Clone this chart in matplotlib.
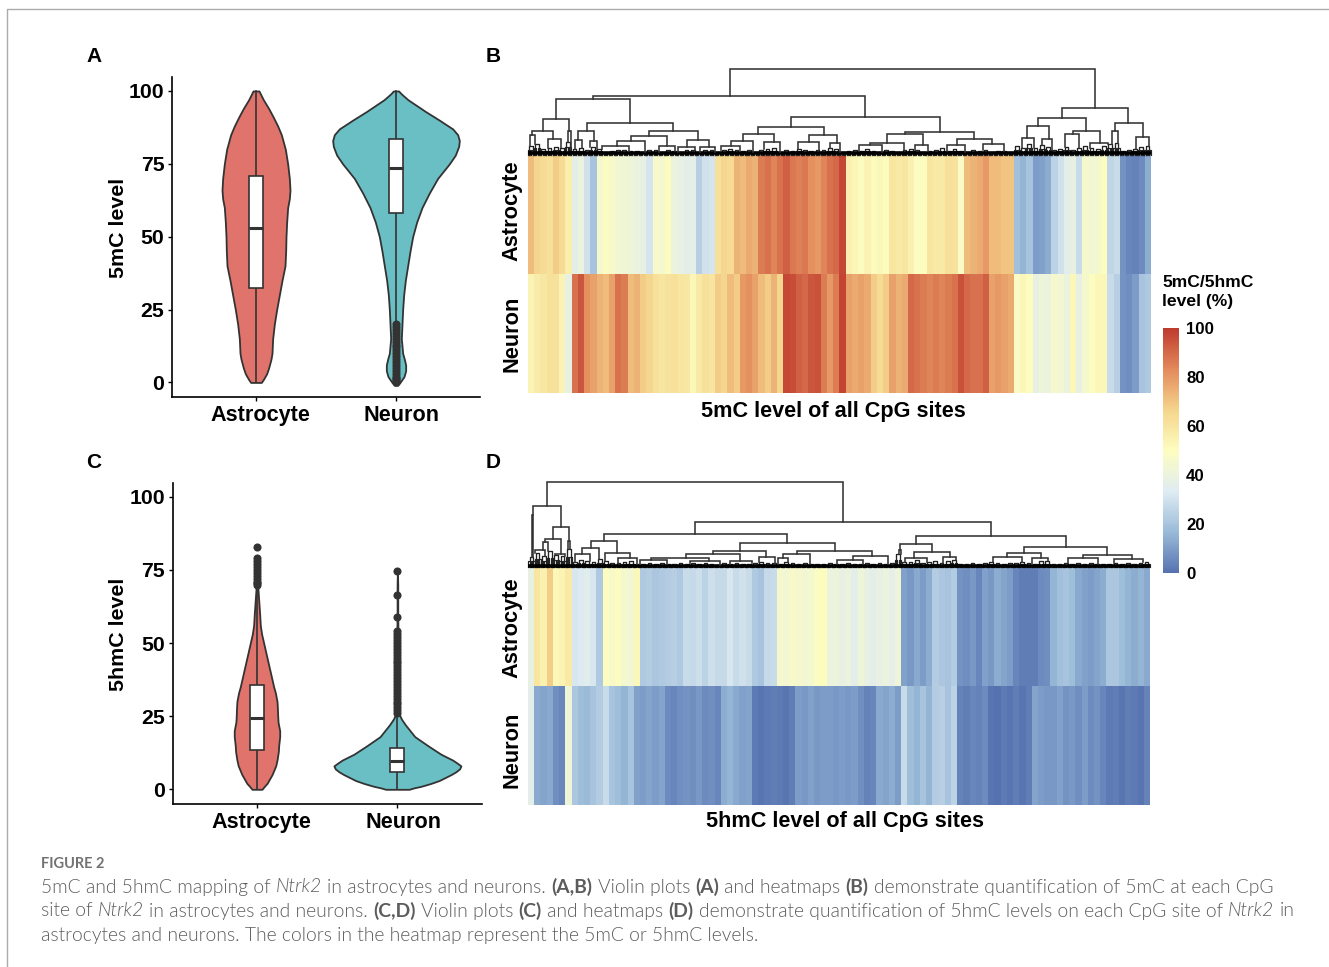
import matplotlib
matplotlib.use('Agg')
import matplotlib.pyplot as plt
import numpy as np
from matplotlib.cm import ScalarMappable
from matplotlib.colors import LinearSegmentedColormap, Normalize
from matplotlib.lines import Line2D
from matplotlib.transforms import ScaledTranslation

W, H = 1329, 967
plt.rcParams['font.family'] = ['Liberation Sans', 'DejaVu Sans']
plt.rcParams['font.weight'] = 'bold'

groups = ['Astrocyte', 'Neuron']
violin_ticks = [0, 25, 50, 75, 100]
bar_ticks = [0, 20, 40, 60, 80, 100]

# violin outlines: level and half width (in 1/420 of a category step)
a_astro_y = [0, 1, 3, 5, 8, 10, 15, 20, 25, 30, 35, 40, 45, 50, 55, 60, 63, 66, 70, 75, 80, 85, 88, 91, 94, 97, 100]
a_astro_w = [16, 22, 32, 38, 45, 48, 50, 55, 62, 70, 78, 87, 89, 90, 92, 95, 100, 102, 100, 95, 88, 76, 65, 52, 38, 22, 9]
a_neuron_y = [-1, 0, 1, 2, 4, 6, 8, 10, 15, 20, 25, 30, 35, 40, 45, 50, 55, 60, 65, 70, 75, 78, 81, 83, 85, 87, 90, 93, 95, 97, 99, 100]
a_neuron_w = [5, 12, 18, 24, 29, 29, 25, 20, 16, 18, 20, 23, 28, 35, 42, 50, 62, 78, 100, 125, 160, 178, 188, 190, 185, 170, 130, 88, 62, 36, 16, 8]
c_astro_y = [0, 1, 2, 5, 8, 10, 13, 15, 18, 20, 23, 25, 28, 30, 33, 35, 38, 40, 45, 50, 53, 56, 60, 65, 70]
c_astro_w = [15, 22, 30, 45, 56, 60, 64, 65, 68, 68, 63, 62, 61, 60, 55, 50, 44, 40, 30, 20, 14, 10, 8, 5, 2]
c_neuron_y = [0, 0.5, 1, 2, 3, 5, 6, 7, 8, 9, 10, 12, 15, 18, 20, 22, 24, 25, 26, 30, 40, 50, 60, 70, 74.5]
c_neuron_w = [35, 50, 70, 100, 125, 160, 175, 186, 190, 178, 165, 130, 90, 52, 38, 24, 12, 8, 5, 3, 2, 2, 1, 1, 0]

# box stats: q1, median, q3, whisker low, whisker high
a_astro_box = [32.5, 53, 71, 0, 100]
a_neuron_box = [58, 73.5, 83.5, 20, 100]
c_astro_box = [13.6, 24.5, 35.5, 0, 70]
c_neuron_box = [6, 9.5, 14, 0, 26]

a_neuron_out = [0, 0.5, 1, 1.5, 2, 3, 4, 5, 6, 7, 8, 9, 10, 11, 12, 13, 14, 15, 16, 17, 18, 19, 20]
c_astro_out = [70, 70.5, 71, 72, 73, 74, 75, 76, 77, 78, 79, 82.7]
c_neuron_out = [26, 27, 28, 29, 30, 31, 32, 33, 34, 35, 36, 37, 38, 39, 40, 41, 42, 43, 44, 45, 46, 47, 48, 49,
                50, 51, 52, 53, 54, 59, 66.5, 74.5]

# heatmap levels, one value per group of CpG sites
b_astro = [72, 66, 64, 62, 68, 64, 56, 36, 40, 30, 20, 46, 49, 47, 44, 43, 42, 40, 38, 31,
           47, 45, 50, 40, 38, 36, 37, 24, 30, 31, 62, 66, 64, 74, 72, 76, 74, 86, 88, 84,
           88, 92, 87, 85, 87, 82, 80, 84, 88, 90, 97, 55, 53, 50, 54, 51, 52, 50, 60, 58,
           60, 55, 49, 50, 60, 58, 58, 62, 61, 48, 72, 74, 76, 80, 72, 72, 70, 70, 19, 16,
           20, 10, 11, 14, 25, 30, 36, 38, 28, 46, 44, 45, 50, 26, 28, 8, 5, 4, 6, 14]
b_neuron = [54, 57, 59, 62, 61, 54, 38, 88, 94, 82, 78, 74, 72, 78, 88, 86, 72, 74, 68, 66,
            62, 60, 61, 62, 60, 59, 52, 58, 62, 60, 68, 66, 72, 68, 80, 82, 78, 72, 68, 74,
            66, 97, 96, 92, 90, 94, 95, 86, 80, 86, 98, 78, 76, 78, 76, 68, 64, 68, 78, 74,
            76, 90, 88, 86, 84, 86, 84, 86, 88, 95, 90, 88, 88, 92, 78, 80, 78, 76, 48, 52,
            50, 38, 42, 40, 46, 44, 40, 52, 38, 46, 50, 52, 52, 28, 24, 8, 7, 10, 20, 22]
d_astro = [38, 60, 55, 68, 52, 54, 58, 32, 33, 35, 32, 22, 50, 47, 50, 45, 44, 52, 22, 23,
           21, 22, 23, 24, 22, 28, 27, 29, 25, 29, 27, 27, 32, 28, 30, 28, 22, 20, 27, 28,
           46, 44, 47, 46, 44, 45, 49, 50, 40, 41, 38, 40, 36, 42, 38, 36, 38, 40, 37, 42,
           11, 9, 13, 10, 14, 23, 21, 20, 23, 8, 7, 9, 5, 11, 9, 14, 12, 10, 5, 3,
           3, 3, 6, 7, 16, 19, 20, 18, 13, 11, 10, 12, 14, 21, 21, 18, 16, 14, 16, 13]
d_neuron = [36, 13, 12, 13, 7, 5, 42, 21, 18, 17, 20, 23, 28, 20, 18, 16, 20, 11, 10, 12,
            10, 12, 6, 5, 7, 8, 7, 9, 6, 7, 5, 14, 16, 13, 11, 12, 2, 1, 2, 3,
            2, 1, 3, 10, 9, 11, 9, 10, 10, 9, 10, 9, 10, 7, 4, 5, 13, 12, 14, 10,
            28, 18, 16, 20, 16, 23, 24, 20, 25, 4, 3, 5, 4, 6, 1, 0, 2, 1, 3, 1,
            3, 12, 10, 9, 9, 11, 8, 9, 7, 10, 6, 8, 5, 2, 3, 1, 3, 2, 1, 4]

# dendrogram merges: left site, right site, height
b_merges = [(32.4, 91.1, 85.7), (10.5, 54.2, 59), (85.7, 96.4, 46.7), (4.55, 16.4, 56), (42.3, 66.1, 37.7),
            (81.9, 89.6, 37.3), (94.3, 98.7, 32.3), (2.4, 6.7, 35.7), (9.5, 23.4, 32.3), (37, 47.5, 27.7),
            (60.6, 71.6, 23.3), (80.2, 83.6, 29.3), (87.5, 91.8, 24.3), (93.8, 94.7, 24.3), (97.6, 99.8, 17.7),
            (0.64, 4.1, 24.3), (6.4, 7.0, 24), (8.1, 10.7, 24.3), (19.5, 27.4, 24), (34.5, 39.6, 21),
            (45.2, 49.6, 20), (57.6, 63.4, 21), (68.9, 74.5, 15.7), (79.3, 81.2, 16.7), (82.5, 84.1, 16),
            (86.3, 88.5, 21), (90.2, 93.2, 12), (0.3, 1.1, 20), (3.2, 5.3, 16), (7.6, 8.7, 15),
            (10, 11.2, 14), (16.6, 22.3, 19.3), (25.6, 29.1, 15), (14.3, 18.8, 14.3), (21, 23.6, 9),
            (24.2, 26.9, 8), (27.7, 30.1, 8), (11.9, 16.2, 9), (32.7, 36.2, 14), (38, 40.5, 13),
            (31.1, 34.1, 9), (43.4, 46.7, 13), (48.5, 50.2, 11.7), (55, 60.4, 12), (53.1, 56.8, 10),
            (62.2, 64.3, 10), (67.3, 70.2, 10), (73.1, 76.4, 11)]
d_merges = [(3.0, 50.7, 85.7), (0.7, 5.26, 61.7), (26.9, 74.5, 45), (0.6, 0.8, 52), (4.0, 6.6, 40.7),
            (12.2, 41.7, 33), (62.4, 86.5, 31.3), (2.7, 5.26, 28.3), (6.4, 6.7, 26.7), (2.3, 3.2, 25),
            (1.1, 2.7, 17), (4.3, 5.9, 13), (10.1, 14.3, 26.7), (34.1, 49.3, 24), (59.8, 65, 23),
            (79.8, 93.2, 20), (8.7, 11.4, 19.7), (7.5, 9.9, 13), (12.3, 16.3, 14), (14.5, 17.5, 9),
            (29.8, 38.2, 16.3), (43.2, 55.3, 16.3), (25.4, 34.1, 13.3), (19.7, 29, 9.7), (18, 22.3, 7.3),
            (26, 30.8, 6.3), (32.5, 36, 6.3), (37.2, 39.7, 10.7), (41, 45.4, 13.3), (40.2, 41.8, 9.7),
            (52.3, 57.9, 11.3), (49.6, 53.9, 7.3), (59.7, 59.9, 17), (62.1, 67.9, 15), (60.6, 64.1, 9.7),
            (66.8, 68.9, 10.7), (77, 82.5, 14), (89.3, 97.1, 12.3), (74.8, 79.4, 10.7), (81, 83.6, 9),
            (86.9, 91.7, 9), (94.2, 99, 8)]

# height of the small merges sitting on the leaves, one per group of sites
b_bumps = [9, 11, 6, 7, 8, 7, 13, 6, 7, 5, 8, 6, 3, 4, 5, 5, 4, 4, 3, 5,
           5, 3, 5, 4, 3, 5, 5, 3, 5, 5, 3, 5, 6, 5, 4, 5, 3, 5, 6, 7,
           3, 5, 4, 6, 5, 4, 5, 5, 7, 6, 3, 4, 5, 4, 6, 4, 3, 5, 4, 3,
           5, 6, 5, 3, 4, 5, 7, 4, 6, 4, 3, 5, 4, 5, 3, 4, 4, 3, 9, 7,
           11, 7, 10, 8, 5, 6, 8, 5, 7, 9, 7, 6, 9, 11, 12, 4, 5, 6, 8, 9]
d_bumps = [10, 14, 11, 16, 12, 11, 18, 5, 7, 6, 5, 8, 6, 4, 4, 5, 6, 3, 3, 4,
           3, 4, 3, 3, 4, 3, 4, 3, 4, 3, 2, 4, 3, 4, 3, 3, 4, 5, 4, 4,
           3, 5, 4, 3, 4, 3, 3, 3, 4, 3, 3, 4, 3, 3, 4, 3, 4, 3, 4, 13,
           5, 5, 7, 4, 5, 6, 4, 6, 7, 3, 3, 4, 3, 4, 5, 4, 3, 4, 4, 5,
           4, 3, 6, 6, 3, 3, 4, 3, 4, 3, 4, 3, 3, 3, 4, 3, 4, 3, 4, 5]

caption_head = 'FIGURE 2'
caption_lines = [
    [('5mC and 5hmC mapping of ', 'r'), ('Ntrk2', 'i'), (' in astrocytes and neurons. ', 'r'), ('(A,B)', 'b'),
     (' Violin plots ', 'r'), ('(A)', 'b'), (' and heatmaps ', 'r'), ('(B)', 'b'),
     (' demonstrate quantification of 5mC at each CpG', 'r')],
    [('site of ', 'r'), ('Ntrk2', 'i'), (' in astrocytes and neurons. ', 'r'), ('(C,D)', 'b'),
     (' Violin plots ', 'r'), ('(C)', 'b'), (' and heatmaps ', 'r'), ('(D)', 'b'),
     (' demonstrate quantification of 5hmC levels on each CpG site of ', 'r'), ('Ntrk2', 'i'), (' in', 'r')],
    [('astrocytes and neurons. The colors in the heatmap represent the 5mC or 5hmC levels.', 'r')],
]

RED = '#E0746C'
TEAL = '#69BFC4'
DARK = '#333333'
CAPTION = '#5C5C5C'
WIDTH_SCALE = 1 / 420

heat_cmap = LinearSegmentedColormap.from_list(
    'heat', ['#5572B0', '#9ABAD8', '#DFECF2', '#FDFDC0', '#F5D58C', '#E38A5C', '#BF3B2E'])
heat_norm = Normalize(0, 100)

fig = plt.figure(figsize=(W / 100, H / 100), dpi=100)


def ax_px(left, top, right, bottom):
    # axes from a box in picture pixels
    return fig.add_axes([left / W, 1 - bottom / H, (right - left) / W, (bottom - top) / H])


def fig_text(x, y, s, **kw):
    return fig.text(x / W, 1 - y / H, s, **kw)


def draw_violin(ax, pos, ys, hw, color, box, outliers):
    ys = np.array(ys)
    hw = np.array(hw) * WIDTH_SCALE
    ax.fill_betweenx(ys, pos - hw, pos + hw, facecolor=color, edgecolor=DARK, linewidth=1.3, joinstyle='round', zorder=2)
    q1, med, q3, lo, hi = box
    ax.plot([pos, pos], [lo, hi], color=DARK, lw=1.2, zorder=3)
    ax.add_patch(plt.Rectangle((pos - 0.05, q1), 0.1, q3 - q1, facecolor='white', edgecolor=DARK, lw=1.2, zorder=4))
    ax.plot([pos - 0.05, pos + 0.05], [med, med], color=DARK, lw=2.2, solid_capstyle='butt', zorder=5)
    if outliers:
        ax.scatter([pos] * len(outliers), outliers, s=34, color=DARK, linewidths=0, zorder=5, clip_on=False)


def violin_panel(box_px, ylim, parts):
    ax = ax_px(*box_px)
    ax.set_xlim(0.4, 2.6)
    ax.set_ylim(*ylim)
    for part in parts:
        draw_violin(ax, *part)
    ax.spines['top'].set_visible(False)
    ax.spines['right'].set_visible(False)
    ax.spines['left'].set_linewidth(1.2)
    ax.spines['bottom'].set_linewidth(1.2)
    ax.set_yticks(violin_ticks)
    ax.set_xticks([1, 2])
    ax.set_xticklabels(groups, fontsize=15.6, fontweight='bold')
    ax.tick_params(axis='y', labelsize=15.3, length=3, width=1, pad=2.5)
    ax.tick_params(axis='x', length=3, width=1, pad=2.6)
    for lbl, shift in zip(ax.get_xticklabels(), [4, 6]):
        lbl.set_transform(lbl.get_transform() + ScaledTranslation(shift / 100, 0, fig.dpi_scale_trans))
    return ax


def draw_tree(ax, merges, bumps):
    # small merges on the leaves first
    for i, h in enumerate(bumps):
        ax.plot([i + 0.2, i + 0.2, i + 0.8, i + 0.8], [0, h, h, 0], color='#222222', lw=0.95, clip_on=False)
        for a, b in ((i, i + 0.4), (i + 0.6, i + 1)):
            ax.plot([a, a, b, b], [0, h * 0.6, h * 0.6, 0], color='#222222', lw=0.85, clip_on=False)
    ax.plot([0, 100], [1.8, 1.8], color='black', lw=2.6, solid_capstyle='butt', clip_on=False)
    for x1, x2, h in merges:
        legs = []
        for x in (x1, x2):
            # a leg stops on the highest merge below it that spans its site
            below = [m[2] for m in merges if m[2] < h and m[0] <= x <= m[1]]
            below += [bumps[min(int(x), 99)]]
            legs.append(max(below))
        ax.plot([x1, x1, x2, x2], [legs[0], h, h, legs[1]], color=DARK, lw=1.15, clip_on=False,
                solid_joinstyle='miter')


def heat_panel(left, right, top, mid, bottom, row1, row2, merges, bumps):
    ax = ax_px(left, top, right, bottom)
    ax.imshow(np.array([row1, row2]), cmap=heat_cmap, norm=heat_norm, aspect='auto', interpolation='nearest')
    ax.axis('off')
    tree = ax_px(left, top - 90, right, top)
    tree.set_xlim(0, 100)
    tree.set_ylim(0, 90)
    tree.axis('off')
    draw_tree(tree, merges, bumps)


# violins
violin_panel((172, 77, 480, 397), (-5, 104.8),
             [(1, a_astro_y, a_astro_w, RED, a_astro_box, None),
              (2, a_neuron_y, a_neuron_w, TEAL, a_neuron_box, a_neuron_out)])
violin_panel((172.7, 482.7, 481.7, 804.3), (-5.13, 104.8),
             [(1, c_astro_y, c_astro_w, RED, c_astro_box, c_astro_out),
              (2, c_neuron_y, c_neuron_w, TEAL, c_neuron_box, c_neuron_out)])
fig_text(119, 228, '5mC level', rotation=90, ha='center', va='center', fontsize=15.4, fontweight='bold')
fig_text(119, 634, '5hmC level', rotation=90, ha='center', va='center', fontsize=15.4, fontweight='bold')

# heatmaps with dendrograms
heat_panel(527.7, 1150.7, 155, 274, 393, b_astro, b_neuron, b_merges, b_bumps)
heat_panel(528.3, 1149.7, 567.3, 685.7, 805, d_astro, d_neuron, d_merges, d_bumps)

for y, s in [(211, 'Astrocyte'), (334, 'Neuron'), (628, 'Astrocyte'), (750, 'Neuron')]:
    fig_text(512, y, s, rotation=90, ha='center', va='center', fontsize=15.7, fontweight='bold')
fig_text(833.5, 412, '5mC level of all CpG sites', ha='center', va='center', fontsize=15.6, fontweight='bold')
fig_text(844.5, 821.5, '5hmC level of all CpG sites', ha='center', va='center', fontsize=15.6, fontweight='bold')

# panel letters
for x, y, s in [(94, 56.5, 'A'), (493, 56.5, 'B'), (94, 463, 'C'), (493, 463, 'D')]:
    fig_text(x, y, s, ha='center', va='center', fontsize=15, fontweight='bold')

# colour bar
cax = ax_px(1162.7, 328.3, 1179.3, 573.3)
cbar = fig.colorbar(ScalarMappable(norm=heat_norm, cmap=heat_cmap), cax=cax, ticks=bar_ticks)
cbar.outline.set_visible(False)
cbar.ax.tick_params(length=0, labelsize=12.1, pad=5)
fig_text(1162, 282.7, '5mC/5hmC', ha='left', va='center', fontsize=12.6, fontweight='bold')
fig_text(1162, 301.7, 'level (%)', ha='left', va='center', fontsize=12.6, fontweight='bold')

# page frame
fig.add_artist(Line2D([7.3 / W, 7.3 / W, 1], [0, 1 - 9 / H, 1 - 9 / H], color='#ABABAB', lw=1.0))

# caption, one run at a time so italics and bold sit inside the line
fig.canvas.draw()
rend = fig.canvas.get_renderer()
run_style = {'r': {'fontweight': 300}, 'i': {'fontweight': 300, 'fontstyle': 'italic'}, 'b': {'fontweight': 'bold'}}
CAP_SIZE = 13.9


def run_width(s, style):
    # measure with a stop sign so that spaces at the ends count
    t = fig.text(0, 0, s + '|', family=['Lato', 'DejaVu Sans'], fontsize=CAP_SIZE, **style)
    w1 = t.get_window_extent(rend).width
    t.set_text('|')
    w2 = t.get_window_extent(rend).width
    t.remove()
    return w1 - w2


fig_text(41, 863.5, caption_head, family=['Lato', 'DejaVu Sans'], fontsize=10.5, fontweight='bold', color='#727272',
         ha='left', va='center')
for base, line in zip([892.5, 916.5, 940.5], caption_lines):
    x = 41
    for s, kind in line:
        style = run_style[kind]
        lead = len(s) - len(s.lstrip(' '))
        if lead:
            x += run_width(' ' * lead, style)
        fig_text(x, base, s.strip(' '), family=['Lato', 'DejaVu Sans'], fontsize=CAP_SIZE, color=CAPTION,
                 ha='left', va='baseline', **style)
        x += run_width(s[lead:], style)

fig.savefig('out.png', dpi=100)
print('Saved out.png')
